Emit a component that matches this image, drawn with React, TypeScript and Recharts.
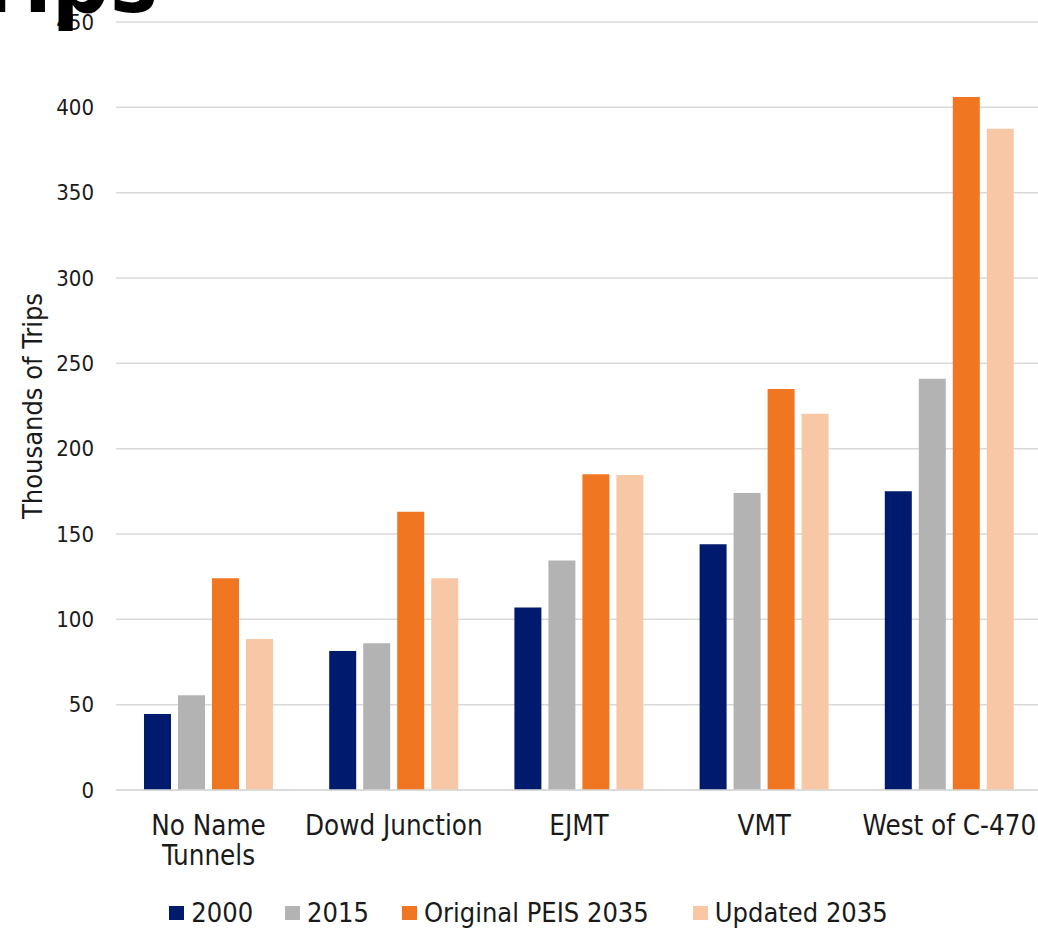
import { BarChart, Bar, XAxis, YAxis, CartesianGrid, Legend } from "recharts";

const categories = ["No Name Tunnels", "Dowd Junction", "EJMT", "VMT", "West of C-470"];
const trips2000 = [44.5, 81.5, 107, 144, 175];
const trips2015 = [55.5, 86, 134.5, 174, 241];
const originalPeis2035 = [124, 163, 185, 235, 406];
const updated2035 = [88.5, 124, 184.5, 220.5, 387.5];
const yTicks = [0, 50, 100, 150, 200, 250, 300, 350, 400, 450];

const FONT = "'DejaVu Sans Condensed', 'Liberation Sans Narrow', 'DejaVu Sans', sans-serif";

const series = [
  { key: "y2000", name: "2000", color: "#001a6e" },
  { key: "y2015", name: "2015", color: "#b3b3b3" },
  { key: "orig", name: "Original PEIS 2035", color: "#f07622" },
  { key: "upd", name: "Updated 2035", color: "#f8c7a6" },
];

// greedy word wrap, ~13 characters per line fits a category slot
function wrapLabel(label: string, maxChars = 13) {
  const lines: string[] = [];
  let cur = "";
  for (const word of label.split(" ")) {
    const next = cur ? cur + " " + word : word;
    if (next.length > maxChars && cur) {
      lines.push(cur);
      cur = word;
    } else {
      cur = next;
    }
  }
  if (cur) lines.push(cur);
  return lines;
}

function CategoryTick({ x, y, payload }: any) {
  const lines = wrapLabel(String(payload.value));
  return (
    <text x={x} y={y + 37} textAnchor="middle" fontSize={27.5} fontFamily={FONT} fill="#1a1a1a">
      {lines.map((line, i) => (
        <tspan key={i} x={x} dy={i === 0 ? 0 : 30}>
          {line}
        </tspan>
      ))}
    </text>
  );
}

function AxisTitle({ viewBox }: any) {
  const cx = 42;
  const cy = viewBox.y + viewBox.height / 2;
  return (
    <text
      x={cx}
      y={cy}
      transform={`rotate(-90, ${cx}, ${cy})`}
      textAnchor="middle"
      fontSize={27}
      fontFamily={FONT}
      fill="#1a1a1a"
    >
      Thousands of Trips
    </text>
  );
}

const legendGaps = [32, 33, 44, 0];

function LegendRow() {
  return (
    <div
      style={{
        display: "flex",
        justifyContent: "center",
        alignItems: "center",
        paddingLeft: 15,
        fontFamily: FONT,
        fontSize: 27,
        color: "#1a1a1a",
        lineHeight: "30px",
      }}
    >
      {series.map((s, i) => (
        <div key={s.key} style={{ display: "flex", alignItems: "center", marginRight: legendGaps[i] }}>
          <span style={{ width: 15, height: 14, background: s.color, marginRight: 7, display: "inline-block" }} />
          <span>{s.name}</span>
        </div>
      ))}
    </div>
  );
}

export default function App() {
  const data = categories.map((name, i) => ({
    name,
    y2000: trips2000[i],
    y2015: trips2015[i],
    orig: originalPeis2035[i],
    upd: updated2035[i],
  }));

  return (
    <div
      style={{
        position: "absolute",
        left: 0,
        top: 0,
        width: 1038,
        height: 928,
        overflow: "hidden",
        background: "#fff",
        fontFamily: FONT,
      }}
    >
      <BarChart
        width={1042}
        height={928}
        data={data}
        margin={{ top: 22, right: 0, bottom: 0, left: 0 }}
        barGap={7}
        barSize={27}
      >
        <CartesianGrid vertical={false} stroke="#d9d9d9" strokeWidth={1.5} />
        <XAxis
          dataKey="name"
          axisLine={{ stroke: "#d9d9d9", strokeWidth: 1.5 }}
          tickLine={false}
          height={108}
          interval={0}
          tick={<CategoryTick />}
        />
        <YAxis
          domain={[0, 450]}
          ticks={yTicks}
          width={116}
          axisLine={false}
          tickLine={false}
          tickMargin={16}
          tick={{ fill: "#1a1a1a", fontSize: 22, fontFamily: FONT }}
          label={{ content: <AxisTitle /> }}
        />
        <Legend verticalAlign="bottom" height={30} content={<LegendRow />} />
        {series.map((s) => (
          <Bar key={s.key} dataKey={s.key} name={s.name} fill={s.color} isAnimationActive={false} />
        ))}
      </BarChart>
      <svg width={300} height={60} style={{ position: "absolute", left: 0, top: 0 }}>
        <text x={158} y={12} textAnchor="end" fontSize={90} fontWeight="bold" fontFamily={FONT} fill="#000">
          Trips
        </text>
      </svg>
    </div>
  );
}
